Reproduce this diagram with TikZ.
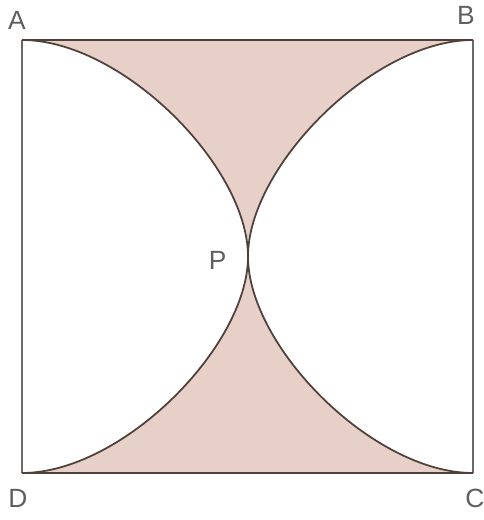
\documentclass[tikz,border=0pt]{standalone}
\usepackage{fontspec}
\setmainfont{Liberation Sans}
\usepackage{xcolor}
\usepackage{tikz}
\usetikzlibrary{positioning, calc}

\definecolor{shadefill}{RGB}{230,208,200}
\definecolor{edgebrown}{RGB}{80,64,60}
\definecolor{sidegray}{RGB}{110,105,104}
\definecolor{labelgray}{RGB}{95,95,95}

\begin{document}
\begin{tikzpicture}[
  x=0.02cm, y=0.02cm,
  font=\fontsize{15}{15}\selectfont,
  shadeband/.style={fill=shadefill, draw=edgebrown, line width=1pt},
  sqedge/.style={draw=sidegray, line width=0.8pt},
  topedge/.style={draw=edgebrown, line width=1.5pt},
  ptlabel/.style={text=labelgray, inner sep=0pt}
]
\useasboundingbox (0,0) rectangle (483,520);

% corners of the square and the touching point
\coordinate (A) at (22,480);
\coordinate (B) at (473,480);
\coordinate (C) at (473,47);
\coordinate (D) at (22,47);
\coordinate (P) at (248,263.5);

% shaded region between the two curved sides
\path[shadeband] (A) -- (B)
  .. controls ($(B)+(-100,0)$) and ($(P)+(0,90)$) .. (P)
  .. controls ($(P)+(0,-90)$) and ($(C)+(-100,0)$) .. (C)
  -- (D)
  .. controls ($(D)+(100,0)$) and ($(P)+(0,-90)$) .. (P)
  .. controls ($(P)+(0,90)$) and ($(A)+(100,0)$) .. (A)
  -- cycle;

% square sides
\draw[sqedge] (A) -- (D);
\draw[sqedge] (B) -- (C);
\draw[topedge] (A) -- (B);
\draw[topedge] (D) -- (C);

% labels
\node[ptlabel] (lA) at (17,500) {A};
\node[ptlabel] (lB) at (466,505) {B};
\node[ptlabel] (lC) at (475,22) {C};
\node[ptlabel] (lD) at (18,22) {D};
\node[ptlabel, left=12pt of P, yshift=-2pt] (lP) {P};

\end{tikzpicture}
\end{document}
